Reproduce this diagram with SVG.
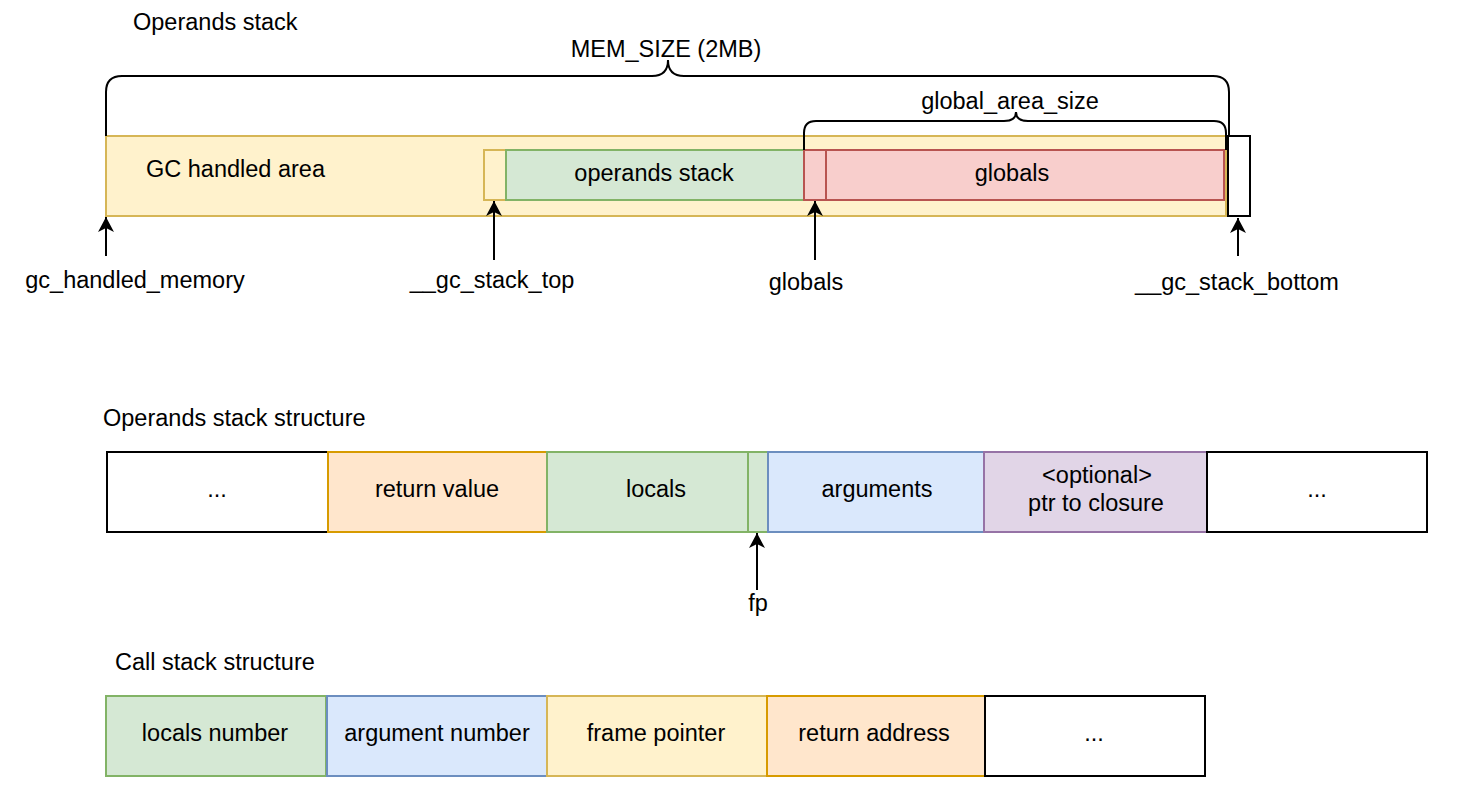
<svg xmlns="http://www.w3.org/2000/svg" width="1470" height="810" viewBox="0 0 1470 810">
<style>
text{font-family:"Liberation Sans",Arial,Helvetica,sans-serif;font-size:23.5px;fill:#000}
.c{text-anchor:middle}
.yel{fill:#fff2cc;stroke:#d6b656;stroke-width:2}
.grn{fill:#d5e8d4;stroke:#82b366;stroke-width:2}
.red{fill:#f8cecc;stroke:#b85450;stroke-width:2}
.blu{fill:#dae8fc;stroke:#6c8ebf;stroke-width:2}
.pur{fill:#e1d5e7;stroke:#9673a6;stroke-width:2}
.org{fill:#ffe6cc;stroke:#d79b00;stroke-width:2}
.wht{fill:#fff;stroke:#000;stroke-width:2}
.ln{fill:none;stroke:#000;stroke-width:2}
</style>
<defs>
<marker id="arr" markerWidth="15" markerHeight="16" viewBox="0 0 15 16" refX="15" refY="8" orient="auto" markerUnits="userSpaceOnUse">
<path d="M0,0 L15,8 L0,16 L4,8 Z" fill="#000"/>
</marker>
</defs>
<rect width="1470" height="810" fill="#fff"/>
<text x="133" y="30">Operands stack</text>
<text x="103" y="426">Operands stack structure</text>
<text x="115" y="670">Call stack structure</text>

<g id="gc-area"><rect class="yel" x="106" y="136" width="1120" height="80"/><text x="146" y="177">GC handled area</text></g>
<g id="stack-top-slot"><rect class="yel" x="484" y="150" width="22" height="50"/></g>
<g id="operands-stack"><rect class="grn" x="506" y="150" width="298" height="50"/><text class="c" x="654" y="181">operands stack</text></g>
<g id="globals-slot"><rect class="red" x="804" y="150" width="22" height="50"/></g>
<g id="globals-box"><rect class="red" x="826" y="150" width="398" height="50"/><text class="c" x="1012" y="181">globals</text></g>
<g id="bottom-slot"><rect class="wht" x="1228" y="136" width="22" height="80"/></g>

<g id="mem-size"><path class="ln" d="M106,136 L106,92 Q106,76 122,76 L652,76 Q668,76 668,60 Q668,76 684,76 L1213,76 Q1229,76 1229,92 L1229,136"/><text class="c" x="666" y="57">MEM_SIZE (2MB)</text></g>
<g id="global-area-size"><path class="ln" d="M804,150 L804,133 Q804,121 816,121 L1004,121 Q1016,121 1016,112 Q1016,121 1028,121 L1214,121 Q1226,121 1226,133 L1226,150"/><text class="c" x="1010" y="109">global_area_size</text></g>

<g id="lbl-gc-mem"><text class="c" x="135" y="288">gc_handled_memory</text></g>
<g id="lbl-stack-top"><text class="c" x="492" y="288">__gc_stack_top</text></g>
<g id="lbl-globals"><text class="c" x="806" y="290">globals</text></g>
<g id="lbl-stack-bottom"><text class="c" x="1237" y="290">__gc_stack_bottom</text></g>

<g id="os-dots1"><rect class="wht" x="107" y="452" width="221" height="80"/><text class="c" x="217" y="497">...</text></g>
<g id="os-retval"><rect class="org" x="328" y="452" width="219" height="80"/><text class="c" x="437" y="497">return value</text></g>
<g id="os-locals"><rect class="grn" x="547" y="452" width="201" height="80"/><text class="c" x="656" y="497">locals</text></g>
<g id="os-fp-slot"><rect class="grn" x="748" y="452" width="20" height="80"/></g>
<g id="os-args"><rect class="blu" x="768" y="452" width="216" height="80"/><text class="c" x="877" y="497">arguments</text></g>
<g id="os-closure"><rect class="pur" x="984" y="452" width="223" height="80"/><text class="c" x="1097" y="483">&lt;optional&gt;</text><text class="c" x="1096" y="511">ptr to closure</text></g>
<g id="os-dots2"><rect class="wht" x="1207" y="452" width="220" height="80"/><text class="c" x="1317" y="497">...</text></g>
<g id="lbl-fp"><text class="c" x="758" y="611">fp</text></g>

<g id="cs-locals"><rect class="grn" x="106" y="696" width="220" height="80"/><text class="c" x="215" y="741">locals number</text></g>
<g id="cs-args"><rect class="blu" x="327" y="696" width="220" height="80"/><text class="c" x="437" y="741">argument number</text></g>
<g id="cs-fp"><rect class="yel" x="547" y="696" width="220" height="80"/><text class="c" x="656" y="741">frame pointer</text></g>
<g id="cs-ret"><rect class="org" x="767" y="696" width="218" height="80"/><text class="c" x="874" y="741">return address</text></g>
<g id="cs-dots"><rect class="wht" x="985" y="696" width="220" height="80"/><text class="c" x="1094" y="741">...</text></g>

<g id="connectors">
<line class="ln" x1="106" y1="256" x2="106" y2="217" marker-end="url(#arr)"/>
<line class="ln" x1="494" y1="260" x2="494" y2="201" marker-end="url(#arr)"/>
<line class="ln" x1="815" y1="260" x2="815" y2="201" marker-end="url(#arr)"/>
<line class="ln" x1="1238" y1="256" x2="1238" y2="218" marker-end="url(#arr)"/>
<line class="ln" x1="757" y1="590" x2="757" y2="533" marker-end="url(#arr)"/>
</g>
</svg>
